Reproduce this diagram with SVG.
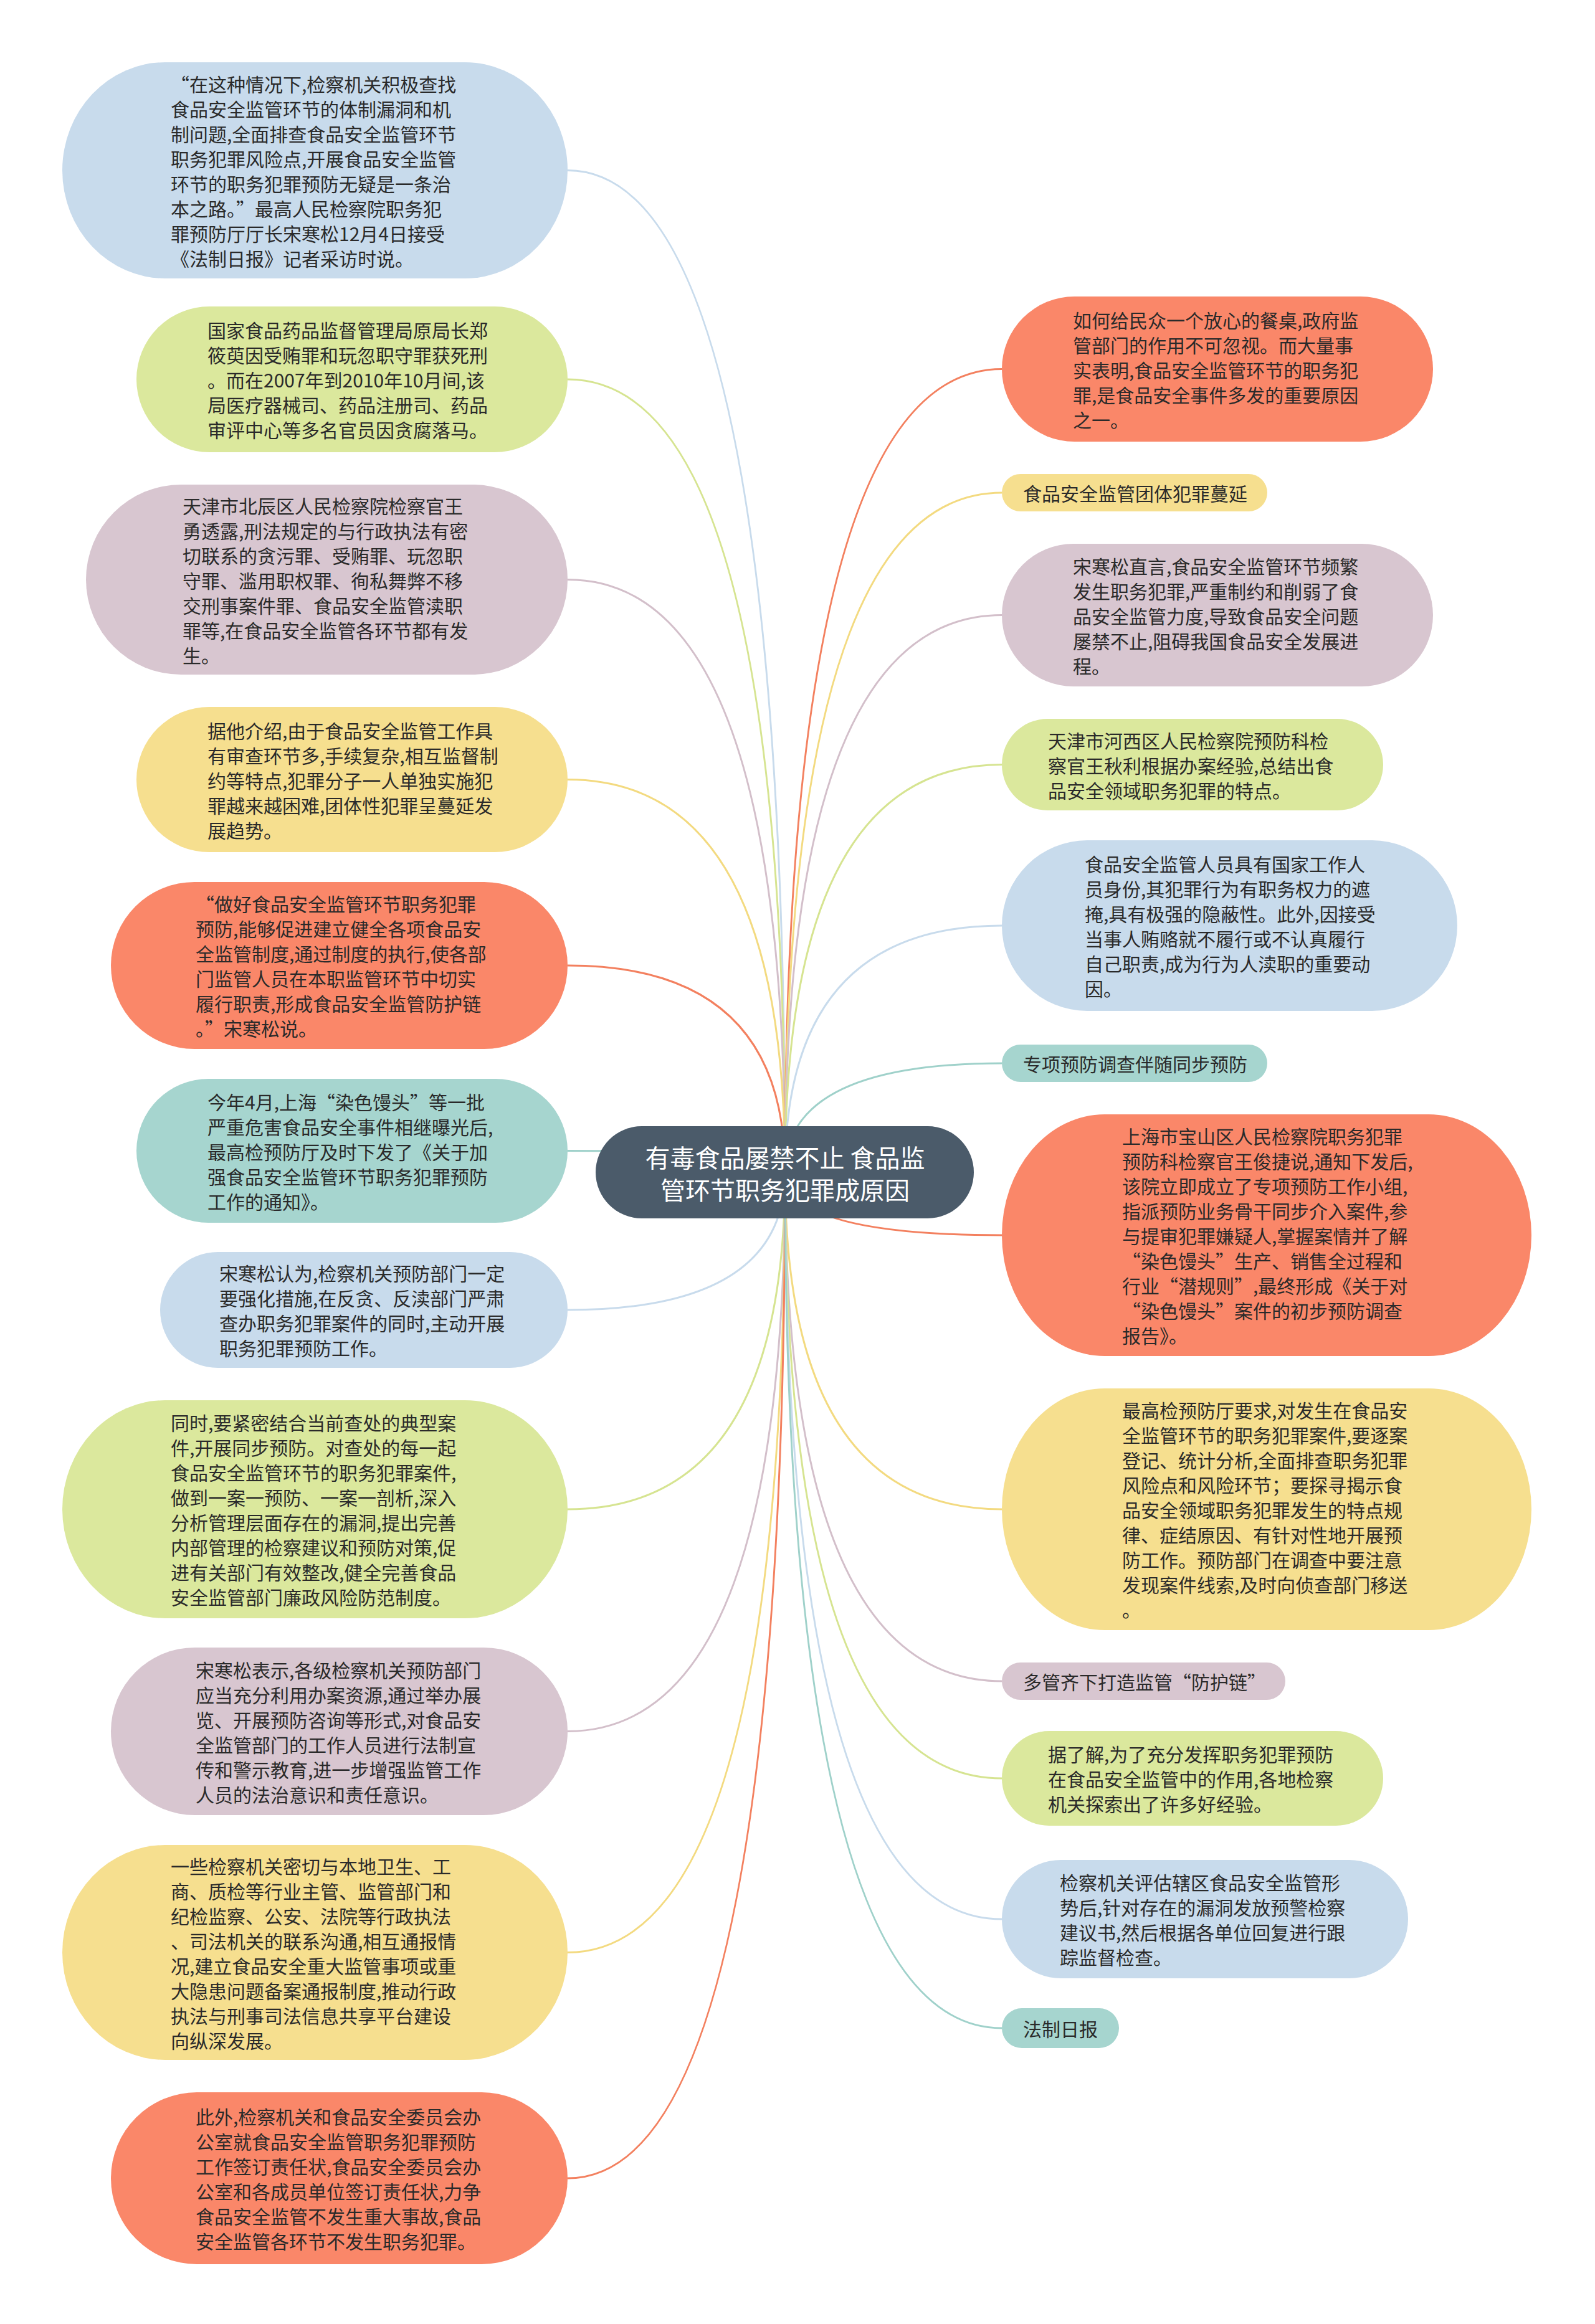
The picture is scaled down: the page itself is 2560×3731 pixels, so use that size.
<svg xmlns="http://www.w3.org/2000/svg" width="2560" height="3731" viewBox="0 0 2560 3731">
<style>
text{font-family:"Noto Sans CJK SC","Noto Sans",sans-serif;}
.t{font-size:30px;fill:#2a2a2a;dominant-baseline:central;}
.ct{font-size:40px;fill:#ffffff;dominant-baseline:central;text-anchor:middle;}
.cn{fill:none;stroke-width:3;}
.blue{fill:#c8dbec}.green{fill:#dbe89d}.mauve{fill:#d8c6d0}.yellow{fill:#f6df8f}.salmon{fill:#fa8769}.teal{fill:#a6d5cf}
.sblue{stroke:#c8dbec}.sgreen{stroke:#d6e491}.smauve{stroke:#d3bfca}.syellow{stroke:#f3da80}.ssalmon{stroke:#f3805f}.steal{stroke:#9fd1ca}
.q{font-feature-settings:"fwid" 1;}
</style>
<rect width="2560" height="3731" fill="#ffffff"/>
<g id="connectors">
<path class="cn sblue" d="M1260 1882 Q1260 273.5 911 273.5"/>
<path class="cn sgreen" d="M1260 1882 Q1260 609 911 609"/>
<path class="cn smauve" d="M1260 1882 Q1260 930.5 911 930.5"/>
<path class="cn syellow" d="M1260 1882 Q1260 1251.5 911 1251.5"/>
<path class="cn ssalmon" d="M1260 1882 Q1260 1550 911 1550"/>
<path class="cn steal" d="M1260 1882 Q1260 1847.5 911 1847.5"/>
<path class="cn sblue" d="M1260 1882 Q1260 2103 911 2103"/>
<path class="cn sgreen" d="M1260 1882 Q1260 2423 911 2423"/>
<path class="cn smauve" d="M1260 1882 Q1260 2779.5 911 2779.5"/>
<path class="cn syellow" d="M1260 1882 Q1260 3134.5 911 3134.5"/>
<path class="cn ssalmon" d="M1260 1882 Q1260 3497 911 3497"/>
<path class="cn ssalmon" d="M1260 1882 Q1260 592.5 1608 592.5"/>
<path class="cn syellow" d="M1260 1882 Q1260 791 1608 791"/>
<path class="cn smauve" d="M1260 1882 Q1260 987.5 1608 987.5"/>
<path class="cn sgreen" d="M1260 1882 Q1260 1227.5 1608 1227.5"/>
<path class="cn sblue" d="M1260 1882 Q1260 1486 1608 1486"/>
<path class="cn steal" d="M1260 1882 Q1260 1707 1608 1707"/>
<path class="cn ssalmon" d="M1260 1882 Q1260 1983 1608 1983"/>
<path class="cn syellow" d="M1260 1882 Q1260 2423 1608 2423"/>
<path class="cn smauve" d="M1260 1882 Q1260 2699 1608 2699"/>
<path class="cn sgreen" d="M1260 1882 Q1260 2855 1608 2855"/>
<path class="cn sblue" d="M1260 1882 Q1260 3081 1608 3081"/>
<path class="cn steal" d="M1260 1882 Q1260 3256 1608 3256"/>
</g>
<g id="node-center">
<rect x="956" y="1808" width="607" height="148" rx="74" ry="74" fill="#4b5b6a"/>
<text class="ct"><tspan x="1260" y="1857">有毒食品屡禁不止 食品监</tspan><tspan x="1260" y="1909">管环节职务犯罪成原因</tspan></text>
</g>
<g id="node-L1">
<rect class="blue" x="100" y="100" width="811" height="347" rx="165" ry="173.5"/>
<text class="t"><tspan x="274" y="133.5">“在这种情况下,检察机关积极查找</tspan><tspan x="274" y="173.5">食品安全监管环节的体制漏洞和机</tspan><tspan x="274" y="213.5">制问题,全面排查食品安全监管环节</tspan><tspan x="274" y="253.5">职务犯罪风险点,开展食品安全监管</tspan><tspan x="274" y="293.5">环节的职务犯罪预防无疑是一条治</tspan><tspan x="274" y="333.5">本之路。”最高人民检察院职务犯</tspan><tspan x="274" y="373.5">罪预防厅厅长宋寒松12月4日接受</tspan><tspan x="274" y="413.5">《法制日报》记者采访时说。</tspan></text>
</g>
<g id="node-L2">
<rect class="green" x="219" y="492" width="692" height="234" rx="117" ry="117"/>
<text class="t"><tspan x="333" y="529">国家食品药品监督管理局原局长郑</tspan><tspan x="333" y="569">筱萸因受贿罪和玩忽职守罪获死刑</tspan><tspan x="333" y="609">。而在2007年到2010年10月间,该</tspan><tspan x="333" y="649">局医疗器械司、药品注册司、药品</tspan><tspan x="333" y="689">审评中心等多名官员因贪腐落马。</tspan></text>
</g>
<g id="node-L3">
<rect class="mauve" x="138" y="778" width="773" height="305" rx="152.5" ry="152.5"/>
<text class="t"><tspan x="293" y="810.5">天津市北辰区人民检察院检察官王</tspan><tspan x="293" y="850.5">勇透露,刑法规定的与行政执法有密</tspan><tspan x="293" y="890.5">切联系的贪污罪、受贿罪、玩忽职</tspan><tspan x="293" y="930.5">守罪、滥用职权罪、徇私舞弊不移</tspan><tspan x="293" y="970.5">交刑事案件罪、食品安全监管渎职</tspan><tspan x="293" y="1010.5">罪等,在食品安全监管各环节都有发</tspan><tspan x="293" y="1050.5">生。</tspan></text>
</g>
<g id="node-L4">
<rect class="yellow" x="219" y="1135" width="692" height="233" rx="116.5" ry="116.5"/>
<text class="t"><tspan x="333" y="1171.5">据他介绍,由于食品安全监管工作具</tspan><tspan x="333" y="1211.5">有审查环节多,手续复杂,相互监督制</tspan><tspan x="333" y="1251.5">约等特点,犯罪分子一人单独实施犯</tspan><tspan x="333" y="1291.5">罪越来越困难,团体性犯罪呈蔓延发</tspan><tspan x="333" y="1331.5">展趋势。</tspan></text>
</g>
<g id="node-L5">
<rect class="salmon" x="178" y="1416" width="733" height="268" rx="134" ry="134"/>
<text class="t"><tspan x="314" y="1450">“做好食品安全监管环节职务犯罪</tspan><tspan x="314" y="1490">预防,能够促进建立健全各项食品安</tspan><tspan x="314" y="1530">全监管制度,通过制度的执行,使各部</tspan><tspan x="314" y="1570">门监管人员在本职监管环节中切实</tspan><tspan x="314" y="1610">履行职责,形成食品安全监管防护链</tspan><tspan x="314" y="1650">。”宋寒松说。</tspan></text>
</g>
<g id="node-L6">
<rect class="teal" x="219" y="1732" width="692" height="231" rx="115.5" ry="115.5"/>
<text class="t"><tspan x="333" y="1767.5">今年4月,上海“染色馒头”等一批</tspan><tspan x="333" y="1807.5">严重危害食品安全事件相继曝光后,</tspan><tspan x="333" y="1847.5">最高检预防厅及时下发了《关于加</tspan><tspan x="333" y="1887.5">强食品安全监管环节职务犯罪预防</tspan><tspan x="333" y="1927.5">工作的通知》。</tspan></text>
</g>
<g id="node-L7">
<rect class="blue" x="257" y="2010" width="654" height="186" rx="93" ry="93"/>
<text class="t"><tspan x="352" y="2043">宋寒松认为,检察机关预防部门一定</tspan><tspan x="352" y="2083">要强化措施,在反贪、反渎部门严肃</tspan><tspan x="352" y="2123">查办职务犯罪案件的同时,主动开展</tspan><tspan x="352" y="2163">职务犯罪预防工作。</tspan></text>
</g>
<g id="node-L8">
<rect class="green" x="100" y="2248" width="811" height="350" rx="165" ry="175"/>
<text class="t"><tspan x="274" y="2283">同时,要紧密结合当前查处的典型案</tspan><tspan x="274" y="2323">件,开展同步预防。对查处的每一起</tspan><tspan x="274" y="2363">食品安全监管环节的职务犯罪案件,</tspan><tspan x="274" y="2403">做到一案一预防、一案一剖析,深入</tspan><tspan x="274" y="2443">分析管理层面存在的漏洞,提出完善</tspan><tspan x="274" y="2483">内部管理的检察建议和预防对策,促</tspan><tspan x="274" y="2523">进有关部门有效整改,健全完善食品</tspan><tspan x="274" y="2563">安全监管部门廉政风险防范制度。</tspan></text>
</g>
<g id="node-L9">
<rect class="mauve" x="178" y="2645" width="733" height="269" rx="134.5" ry="134.5"/>
<text class="t"><tspan x="314" y="2679.5">宋寒松表示,各级检察机关预防部门</tspan><tspan x="314" y="2719.5">应当充分利用办案资源,通过举办展</tspan><tspan x="314" y="2759.5">览、开展预防咨询等形式,对食品安</tspan><tspan x="314" y="2799.5">全监管部门的工作人员进行法制宣</tspan><tspan x="314" y="2839.5">传和警示教育,进一步增强监管工作</tspan><tspan x="314" y="2879.5">人员的法治意识和责任意识。</tspan></text>
</g>
<g id="node-L10">
<rect class="yellow" x="100" y="2962" width="811" height="345" rx="165" ry="172.5"/>
<text class="t"><tspan x="274" y="2994.5">一些检察机关密切与本地卫生、工</tspan><tspan x="274" y="3034.5">商、质检等行业主管、监管部门和</tspan><tspan x="274" y="3074.5">纪检监察、公安、法院等行政执法</tspan><tspan x="274" y="3114.5">、司法机关的联系沟通,相互通报情</tspan><tspan x="274" y="3154.5">况,建立食品安全重大监管事项或重</tspan><tspan x="274" y="3194.5">大隐患问题备案通报制度,推动行政</tspan><tspan x="274" y="3234.5">执法与刑事司法信息共享平台建设</tspan><tspan x="274" y="3274.5">向纵深发展。</tspan></text>
</g>
<g id="node-L11">
<rect class="salmon" x="178" y="3359" width="733" height="276" rx="138" ry="138"/>
<text class="t"><tspan x="314" y="3397">此外,检察机关和食品安全委员会办</tspan><tspan x="314" y="3437">公室就食品安全监管职务犯罪预防</tspan><tspan x="314" y="3477">工作签订责任状,食品安全委员会办</tspan><tspan x="314" y="3517">公室和各成员单位签订责任状,力争</tspan><tspan x="314" y="3557">食品安全监管不发生重大事故,食品</tspan><tspan x="314" y="3597">安全监管各环节不发生职务犯罪。</tspan></text>
</g>
<g id="node-R1">
<rect class="salmon" x="1608" y="476" width="692" height="233" rx="116.5" ry="116.5"/>
<text class="t"><tspan x="1722" y="512.5">如何给民众一个放心的餐桌,政府监</tspan><tspan x="1722" y="552.5">管部门的作用不可忽视。而大量事</tspan><tspan x="1722" y="592.5">实表明,食品安全监管环节的职务犯</tspan><tspan x="1722" y="632.5">罪,是食品安全事件多发的重要原因</tspan><tspan x="1722" y="672.5">之一。</tspan></text>
</g>
<g id="node-R2">
<rect class="yellow" x="1608" y="761" width="426" height="60" rx="30" ry="30"/>
<text class="t"><tspan x="1642" y="791">食品安全监管团体犯罪蔓延</tspan></text>
</g>
<g id="node-R3">
<rect class="mauve" x="1608" y="873" width="692" height="229" rx="114.5" ry="114.5"/>
<text class="t"><tspan x="1722" y="907.5">宋寒松直言,食品安全监管环节频繁</tspan><tspan x="1722" y="947.5">发生职务犯罪,严重制约和削弱了食</tspan><tspan x="1722" y="987.5">品安全监管力度,导致食品安全问题</tspan><tspan x="1722" y="1027.5">屡禁不止,阻碍我国食品安全发展进</tspan><tspan x="1722" y="1067.5">程。</tspan></text>
</g>
<g id="node-R4">
<rect class="green" x="1608" y="1154" width="612" height="147" rx="73.5" ry="73.5"/>
<text class="t"><tspan x="1682" y="1187.5">天津市河西区人民检察院预防科检</tspan><tspan x="1682" y="1227.5">察官王秋利根据办案经验,总结出食</tspan><tspan x="1682" y="1267.5">品安全领域职务犯罪的特点。</tspan></text>
</g>
<g id="node-R5">
<rect class="blue" x="1608" y="1349" width="731" height="274" rx="137" ry="137"/>
<text class="t"><tspan x="1741" y="1386">食品安全监管人员具有国家工作人</tspan><tspan x="1741" y="1426">员身份,其犯罪行为有职务权力的遮</tspan><tspan x="1741" y="1466">掩,具有极强的隐蔽性。此外,因接受</tspan><tspan x="1741" y="1506">当事人贿赂就不履行或不认真履行</tspan><tspan x="1741" y="1546">自己职责,成为行为人渎职的重要动</tspan><tspan x="1741" y="1586">因。</tspan></text>
</g>
<g id="node-R6">
<rect class="teal" x="1608" y="1677" width="426" height="60" rx="30" ry="30"/>
<text class="t"><tspan x="1642" y="1707">专项预防调查伴随同步预防</tspan></text>
</g>
<g id="node-R7">
<rect class="salmon" x="1608" y="1789" width="850" height="388" rx="165" ry="194"/>
<text class="t"><tspan x="1801" y="1823">上海市宝山区人民检察院职务犯罪</tspan><tspan x="1801" y="1863">预防科检察官王俊捷说,通知下发后,</tspan><tspan x="1801" y="1903">该院立即成立了专项预防工作小组,</tspan><tspan x="1801" y="1943">指派预防业务骨干同步介入案件,参</tspan><tspan x="1801" y="1983">与提审犯罪嫌疑人,掌握案情并了解</tspan><tspan x="1801" y="2023">“染色馒头”生产、销售全过程和</tspan><tspan x="1801" y="2063">行业“潜规则”,最终形成《关于对</tspan><tspan x="1801" y="2103">“染色馒头”案件的初步预防调查</tspan><tspan x="1801" y="2143">报告》。</tspan></text>
</g>
<g id="node-R8">
<rect class="yellow" x="1608" y="2229" width="850" height="388" rx="165" ry="194"/>
<text class="t"><tspan x="1801" y="2263">最高检预防厅要求,对发生在食品安</tspan><tspan x="1801" y="2303">全监管环节的职务犯罪案件,要逐案</tspan><tspan x="1801" y="2343">登记、统计分析,全面排查职务犯罪</tspan><tspan x="1801" y="2383">风险点和风险环节；要探寻揭示食</tspan><tspan x="1801" y="2423">品安全领域职务犯罪发生的特点规</tspan><tspan x="1801" y="2463">律、症结原因、有针对性地开展预</tspan><tspan x="1801" y="2503">防工作。预防部门在调查中要注意</tspan><tspan x="1801" y="2543">发现案件线索,及时向侦查部门移送</tspan><tspan x="1801" y="2583">。</tspan></text>
</g>
<g id="node-R9">
<rect class="mauve" x="1608" y="2669" width="455" height="60" rx="30" ry="30"/>
<text class="t"><tspan x="1642" y="2699">多管齐下打造监管“防护链”</tspan></text>
</g>
<g id="node-R10">
<rect class="green" x="1608" y="2779" width="612" height="152" rx="76" ry="76"/>
<text class="t"><tspan x="1682" y="2815">据了解,为了充分发挥职务犯罪预防</tspan><tspan x="1682" y="2855">在食品安全监管中的作用,各地检察</tspan><tspan x="1682" y="2895">机关探索出了许多好经验。</tspan></text>
</g>
<g id="node-R11">
<rect class="blue" x="1608" y="2986" width="652" height="190" rx="95" ry="95"/>
<text class="t"><tspan x="1701" y="3021">检察机关评估辖区食品安全监管形</tspan><tspan x="1701" y="3061">势后,针对存在的漏洞发放预警检察</tspan><tspan x="1701" y="3101">建议书,然后根据各单位回复进行跟</tspan><tspan x="1701" y="3141">踪监督检查。</tspan></text>
</g>
<g id="node-R12">
<rect class="teal" x="1608" y="3224" width="188" height="64" rx="32" ry="32"/>
<text class="t"><tspan x="1642" y="3256">法制日报</tspan></text>
</g>
</svg>
